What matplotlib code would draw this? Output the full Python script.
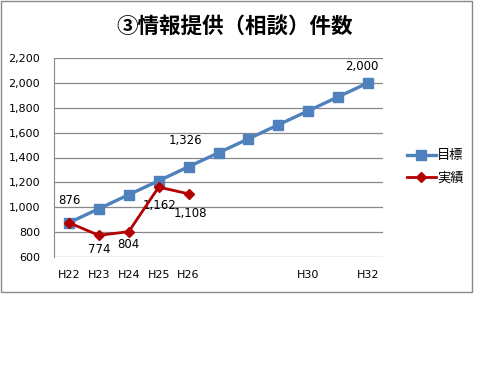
import matplotlib
matplotlib.use("Agg")
import matplotlib.pyplot as plt
from matplotlib.patches import Rectangle

plt.rcParams['font.family'] = ['Noto Sans CJK JP', 'DejaVu Sans']

categories = ['H22', 'H23', 'H24', 'H25', 'H26', 'H27', 'H28', 'H29', 'H30', 'H31', 'H32']
tick_labels = ['H22', 'H23', 'H24', 'H25', 'H26', '', '', '', 'H30', '', 'H32']
target = [876, 988, 1101, 1213, 1326, 1438, 1550, 1663, 1775, 1888, 2000]
actual = [876, 774, 804, 1162, 1108]

W, H = 500, 375
fig = plt.figure(figsize=(5, 3.75), dpi=100)
fig.patch.set_facecolor('white')

# outer chart border
fig.add_artist(Rectangle((1 / W, 1 - 292 / H), 471 / W, 291 / H, transform=fig.transFigure,
                         fill=False, edgecolor='#888888', linewidth=1))

ax = fig.add_axes([54 / W, 1 - 257 / H, 329 / W, 199 / H])
x = list(range(len(categories)))
ax.plot(x, target, color='#4F81BD', linewidth=2.4, marker='s', markersize=6.5, label='目標', zorder=3)
ax.plot(x[:len(actual)], actual, color='#B50000', linewidth=2.0, marker='D', markersize=5,
        label='実績', zorder=4)

ax.set_xlim(-0.5, len(categories) - 0.5)
ax.set_ylim(600, 2200)
ax.set_yticks(range(600, 2201, 200))
ax.set_yticklabels([f'{v:,}' for v in range(600, 2201, 200)], fontsize=8, family='DejaVu Sans')
ax.set_xticks(x)
ax.set_xticklabels(tick_labels, fontsize=8, family='DejaVu Sans')
ax.tick_params(length=0)
ax.tick_params(axis='y', pad=10)
ax.tick_params(axis='x', pad=9)
ax.grid(axis='y', color='#888888', linewidth=0.9)
ax.set_axisbelow(True)
for s in ['top', 'right', 'bottom']:
    ax.spines[s].set_visible(False)
ax.spines['left'].set_color('#888888')

lab = dict(fontsize=8.5, family='DejaVu Sans', ha='center', va='center', textcoords='offset points')
ax.annotate(f'{actual[0]:,}', (0, actual[0]), xytext=(0, 16), **lab)
ax.annotate(f'{actual[1]:,}', (1, actual[1]), xytext=(0, -10), **lab)
ax.annotate(f'{actual[2]:,}', (2, actual[2]), xytext=(0, -9), **lab)
ax.annotate(f'{actual[3]:,}', (3, actual[3]), xytext=(0.5, -13), **lab)
ax.annotate(f'{actual[4]:,}', (4, actual[4]), xytext=(1.5, -14.5), **lab)
ax.annotate(f'{target[4]:,}', (4, target[4]), xytext=(-2.5, 19), **lab)
ax.annotate(f'{target[10]:,}', (10, target[10]), xytext=(-4.5, 12), **lab)

fig.legend(loc='center left', bbox_to_anchor=(395 / W, 1 - 167 / H), frameon=False,
           fontsize=9.5, handlelength=2.2, handletextpad=0.1, labelspacing=0.7)

fig.text(235 / W, 1 - 26 / H, '③情報提供（相談）件数', ha='center', va='center',
         fontsize=15.5, fontweight='bold')

fig.savefig('out.png', dpi=100)
